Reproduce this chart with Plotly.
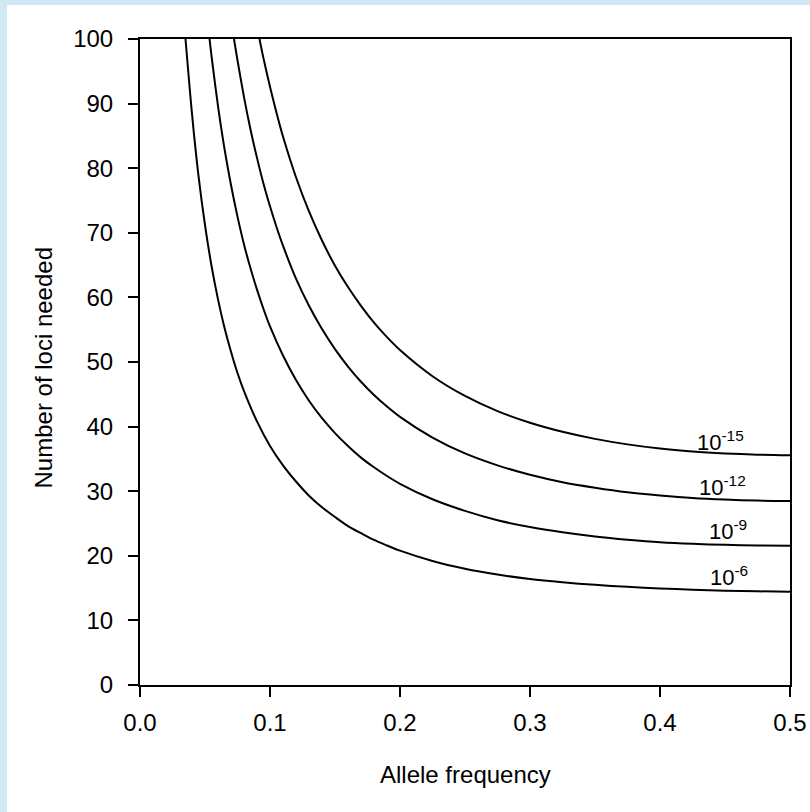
import plotly.graph_objects as go

# Number of loci needed to reach a given match probability, by allele frequency
x_1e6 = [0.035, 0.04, 0.045, 0.05, 0.055, 0.06, 0.065, 0.07, 0.075, 0.08, 0.09, 0.10, 0.11,
         0.12, 0.13, 0.14, 0.15, 0.16, 0.17, 0.18, 0.19, 0.20, 0.225, 0.25, 0.275, 0.30,
         0.325, 0.35, 0.375, 0.40, 0.425, 0.45, 0.475, 0.50]
y_1e6 = [100, 88.4, 78.8, 71.2, 64.9, 59.7, 55.3, 51.6, 48.3, 45.5, 40.8, 37.0, 34.0,
         31.5, 29.3, 27.5, 26.0, 24.6, 23.5, 22.45, 21.6, 20.8, 19.2, 18.0, 17.1, 16.4,
         15.9, 15.5, 15.2, 14.95, 14.75, 14.6, 14.5, 14.45]

x_1e9 = [0.0535, 0.055, 0.06, 0.065, 0.07, 0.075, 0.08, 0.085, 0.09, 0.095, 0.10, 0.11,
         0.12, 0.13, 0.14, 0.15, 0.16, 0.17, 0.18, 0.19, 0.20, 0.225, 0.25, 0.275, 0.30,
         0.325, 0.35, 0.375, 0.40, 0.425, 0.45, 0.475, 0.50]
y_1e9 = [100, 97.4, 89.6, 83.0, 77.4, 72.5, 68.2, 64.5, 61.2, 58.2, 55.5, 51.0,
         47.2, 44.0, 41.3, 39.0, 37.0, 35.2, 33.7, 32.35, 31.15, 28.75, 26.95, 25.5, 24.45,
         23.65, 23.0, 22.5, 22.1, 21.85, 21.7, 21.6, 21.55]

x_1e12 = [0.0723, 0.075, 0.08, 0.085, 0.09, 0.095, 0.10, 0.105, 0.11, 0.12, 0.13, 0.14,
          0.15, 0.16, 0.17, 0.18, 0.19, 0.20, 0.225, 0.25, 0.275, 0.30, 0.325, 0.35,
          0.375, 0.40, 0.425, 0.45, 0.475, 0.50]
y_1e12 = [100, 96.7, 91.0, 86.0, 81.6, 77.6, 74.1, 70.9, 68.0, 62.9, 58.7, 55.1,
          52.0, 49.3, 46.95, 44.9, 43.1, 41.5, 38.3, 35.85, 34.0, 32.55, 31.4, 30.55,
          29.85, 29.35, 28.95, 28.7, 28.55, 28.5]

x_1e15 = [0.0919, 0.095, 0.10, 0.105, 0.11, 0.12, 0.13, 0.14, 0.15, 0.16, 0.17, 0.18,
          0.19, 0.20, 0.225, 0.25, 0.275, 0.30, 0.325, 0.35, 0.375, 0.40, 0.425, 0.45,
          0.475, 0.50]
y_1e15 = [100, 97.0, 92.6, 88.6, 84.9, 78.6, 73.3, 68.8, 64.9, 61.6, 58.7, 56.1,
          53.85, 51.85, 47.8, 44.75, 42.4, 40.6, 39.2, 38.1, 37.25, 36.6, 36.15, 35.85,
          35.65, 35.55]

curve_labels = ["10<sup>-6</sup>", "10<sup>-9</sup>", "10<sup>-12</sup>", "10<sup>-15</sup>"]
label_x = [0.4369, 0.4362, 0.4285, 0.4269]
label_y = [14.4, 21.5, 28.3, 35.3]

x_ticks = [0.0, 0.1, 0.2, 0.3, 0.4, 0.5]
y_ticks = [0, 10, 20, 30, 40, 50, 60, 70, 80, 90, 100]

FONT = "Liberation Sans, Arial, sans-serif"

fig = go.Figure()
for xs, ys in [(x_1e6, y_1e6), (x_1e9, y_1e9), (x_1e12, y_1e12), (x_1e15, y_1e15)]:
    fig.add_trace(go.Scatter(
        x=xs, y=ys, mode="lines",
        line=dict(color="black", width=2, shape="spline", smoothing=0.8),
        showlegend=False, hoverinfo="skip",
    ))

for text, lx, ly in zip(curve_labels, label_x, label_y):
    fig.add_annotation(x=lx, y=ly, xref="x", yref="y", text=text, showarrow=False,
                       xanchor="left", yanchor="bottom",
                       font=dict(family=FONT, size=22, color="black"))

# axis titles
fig.add_annotation(x=0.5, y=-0.1393, xref="paper", yref="paper", text="Allele frequency",
                   showarrow=False, xanchor="center", yanchor="middle",
                   font=dict(family=FONT, size=24, color="black"))
fig.add_annotation(x=-0.1492, y=0.49, xref="paper", yref="paper", text="Number of loci needed",
                   showarrow=False, xanchor="center", yanchor="middle", textangle=-90,
                   font=dict(family=FONT, size=24, color="black"))

# light blue page edges (left and top)
BLUE = "#d0e9f4"
fig.add_shape(type="rect", xref="paper", yref="paper", x0=-0.3, x1=-0.2046, y0=-0.3, y1=1.1,
              fillcolor=BLUE, line=dict(width=0), layer="below")
fig.add_shape(type="rect", xref="paper", yref="paper", x0=-0.3, x1=1.1, y0=1.0526, y1=1.1,
              fillcolor=BLUE, line=dict(width=0), layer="below")

fig.update_xaxes(range=[0, 0.5], tickvals=x_ticks, ticktext=[f"{v:.1f}" for v in x_ticks],
                 ticks="outside", ticklen=10, tickwidth=1.5, tickcolor="black",
                 showline=True, linewidth=2, linecolor="black", mirror=True,
                 showgrid=False, zeroline=False, ticklabelstandoff=5, automargin=False,
                 tickfont=dict(family=FONT, size=24, color="black"))
fig.update_yaxes(range=[0, 100], tickvals=y_ticks, ticks="outside", ticklen=10,
                 tickwidth=1.5, tickcolor="black",
                 showline=True, linewidth=2, linecolor="black", mirror=True,
                 showgrid=False, zeroline=False, ticklabelstandoff=10, automargin=False,
                 tickfont=dict(family=FONT, size=24, color="black"))

fig.update_layout(width=810, height=812, margin=dict(l=140, r=20, t=39, b=127),
                  paper_bgcolor="white", plot_bgcolor="white")

fig.write_html("out.html")
